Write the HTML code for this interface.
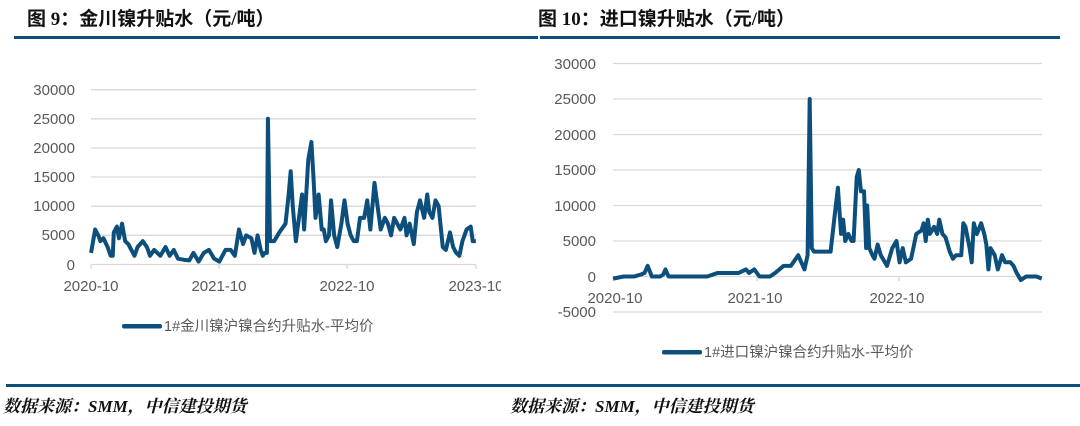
<!DOCTYPE html>
<html><head><meta charset="utf-8"><style>
html,body{margin:0;padding:0;background:#fff;}
svg text{font-family:"Liberation Sans","Noto Sans CJK SC",sans-serif;}
</style></head><body>
<svg width="1080" height="421" viewBox="0 0 1080 421" xmlns="http://www.w3.org/2000/svg">
<defs><clipPath id="lc"><rect x="0" y="0" width="501" height="421"/></clipPath></defs>
<!-- titles -->
<text x="27" y="25" font-size="19" font-weight="bold" fill="#111" style="font-family:'Liberation Serif','Noto Sans CJK SC',serif">图 9：金川镍升贴水（元/吨）</text>
<text x="538" y="25" font-size="19" font-weight="bold" fill="#111" style="font-family:'Liberation Serif','Noto Sans CJK SC',serif">图 10：进口镍升贴水（元/吨）</text>
<rect x="14" y="36" width="524" height="3" fill="#0c4f7c"/>
<rect x="540" y="36" width="520" height="3" fill="#0c4f7c"/>

<!-- left chart grid -->
<g stroke="#d9d9d9" stroke-width="1.3">
<line x1="91" x2="476" y1="89.7" y2="89.7"/><line x1="91" x2="476" y1="118.8" y2="118.8"/>
<line x1="91" x2="476" y1="148" y2="148"/><line x1="91" x2="476" y1="177" y2="177"/>
<line x1="91" x2="476" y1="206.2" y2="206.2"/><line x1="91" x2="476" y1="235.3" y2="235.3"/>
<line x1="91" x2="476" y1="264.5" y2="264.5"/>
<line x1="91" x2="91" y1="264.5" y2="269"/><line x1="219" x2="219" y1="264.5" y2="269"/>
<line x1="347" x2="347" y1="264.5" y2="269"/><line x1="476" x2="476" y1="264.5" y2="269"/>
</g>
<g font-size="15" fill="#595959" text-anchor="end">
<text x="75" y="95">30000</text><text x="75" y="124">25000</text><text x="75" y="153">20000</text>
<text x="75" y="182">15000</text><text x="75" y="211">10000</text><text x="75" y="240">5000</text><text x="75" y="270">0</text>
</g>
<g font-size="15" fill="#595959" text-anchor="middle" clip-path="url(#lc)">
<text x="91" y="291">2020-10</text><text x="219" y="291">2021-10</text><text x="347" y="291">2022-10</text><text x="476" y="291">2023-10</text>
</g>
<g transform="translate(0,264.5) scale(1.0345,-5.83)">
<polyline vector-effect="non-scaling-stroke" fill="none" stroke="#0c4f7c" stroke-width="4" stroke-linejoin="round" points="88,2 92,6 95,5 97,4 100,4.5 104,3 107,1.5 109,1.5 110,5.5 113,6.5 115,4.5 118,7 121,4 124,3.5 130,1.5 133,3 138,4 142,3 145,1.5 149,2.5 155,1.5 160,3 164,1.5 168,2.5 172,1 178,0.8 183,0.7 187,2 192,0.5 197,2 202,2.5 207,1 212,0.5 218,2.5 223,2.5 227,1.5 231,6 235,3.5 238,5 243,4.5 246,2 249,5 252,2.5 254,1.5 256,2 258,2 259,25 261,4 265,4 270,5.5 276,7 279,12 281,16 283,10 286,4 289,8 292,12 294,6 298,18 301,21 303,15 305,8 308,12 311,6 313,6 315,4 318,5 320,11 323,5 326,3 330,7 333,11 336,7 339,5 342,4 345,4 348,8 352,8 355,11 358,6 362,14 365,10 368,6 372,8 375,7 378,5 381,8 384,7 387,6 391,8 393,5 396,7 400,3.5 403,9 406,11 410,8 413,12 415,9 418,8 421,11 424,10 428,3 431,2.5 435,5.5 438,3 441,2 444,1.5 447,4 451,6 455,6.5 457,4 460,4"/>
</g>
<rect x="122" y="324" width="40" height="4.5" rx="2" fill="#0c4f7c"/>
<text x="164" y="331" font-size="14.5" fill="#595959">1#金川镍沪镍合约升贴水-平均价</text>

<!-- right chart grid -->
<g stroke="#d9d9d9" stroke-width="1.3">
<line x1="613" x2="1042" y1="63.5" y2="63.5"/><line x1="613" x2="1042" y1="99" y2="99"/>
<line x1="613" x2="1042" y1="134.5" y2="134.5"/><line x1="613" x2="1042" y1="170" y2="170"/>
<line x1="613" x2="1042" y1="205.5" y2="205.5"/><line x1="613" x2="1042" y1="241" y2="241"/>
<line x1="613" x2="1042" y1="276.5" y2="276.5"/><line x1="613" x2="1042" y1="312" y2="312"/>
<line x1="613" x2="613" y1="276.5" y2="281"/><line x1="757" x2="757" y1="276.5" y2="281"/>
<line x1="899" x2="899" y1="276.5" y2="281"/>
</g>
<g font-size="15" fill="#595959" text-anchor="end">
<text x="596" y="69">30000</text><text x="596" y="104">25000</text><text x="596" y="140">20000</text>
<text x="596" y="175">15000</text><text x="596" y="211">10000</text><text x="596" y="246">5000</text>
<text x="596" y="282">0</text><text x="596" y="317">-5000</text>
</g>
<g font-size="15" fill="#595959" text-anchor="middle">
<text x="615" y="303">2020-10</text><text x="755" y="303">2021-10</text><text x="897" y="303">2022-10</text>
</g>
<g transform="translate(540,276.5) scale(1.0453,-7.1) translate(-540,0)">
<polyline vector-effect="non-scaling-stroke" fill="none" stroke="#0c4f7c" stroke-width="4" stroke-linejoin="round" points="610,-0.3 620,0 630,0 637,0.3 640,0.5 643,1.5 647,0 655,0 658,0.3 660,1 663,0 680,0 700,0 710,0.5 720,0.5 730,0.5 737,1 740,0.5 745,1 750,0 760,0 765,0.5 773,1.5 780,1.5 787,3 793,1 796,3 798,25 800,4 802,3.5 810,3.5 818,3.5 823,10 825,12.5 828,6 830,8 832,5 835,6 838,5 840,5 843,14 845,15 847,12 850,12 852,4 853,10 855,4 858,3 860,2.5 863,4.5 866,3 872,1.5 877,4 881,5 884,2 887,4 890,2 895,2.5 900,6 905,6.5 907,7.5 909,5 911,8 913,6 917,7 920,6 922,8 925,6 928,5.5 932,3.5 935,2.5 938,3 943,3 945,7.5 947,7 951,4 953,2 955,7.5 958,6 962,7.5 965,6 967,4.5 969,1 971,4 975,3 978,1 982,3 985,2 990,2 993,1.5 996,0.5 1000,-0.5 1005,0 1012,0 1015,0 1020,-0.3"/>
</g>
<rect x="662" y="350" width="40" height="4.5" rx="2" fill="#0c4f7c"/>
<text x="704" y="357" font-size="14.5" fill="#595959">1#进口镍沪镍合约升贴水-平均价</text>

<!-- footer -->
<rect x="6" y="384" width="1074" height="3" fill="#0c4f7c"/>
<text x="3" y="412" font-size="17" font-weight="bold" font-style="italic" fill="#111" style="font-family:'Liberation Serif','Noto Serif CJK SC',serif">数据来源：SMM，中信建投期货</text>
<text x="510" y="412" font-size="17" font-weight="bold" font-style="italic" fill="#111" style="font-family:'Liberation Serif','Noto Serif CJK SC',serif">数据来源：SMM，中信建投期货</text>
</svg>
</body></html>
